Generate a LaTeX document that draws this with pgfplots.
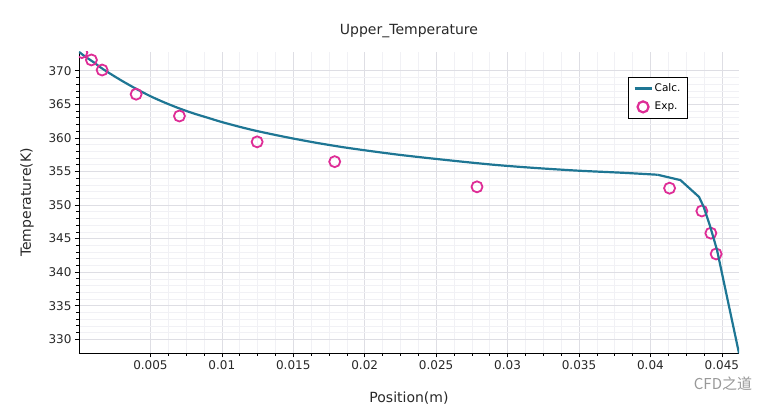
\documentclass[border=0pt]{standalone}
\usepackage{pgfplots}
\pgfplotsset{compat=1.18}
\usepackage{fontspec}
\setmainfont{DejaVu Sans}
\newfontfamily\cjk{Noto Sans CJK SC}
\definecolor{calc}{RGB}{30,118,148}
\definecolor{expc}{RGB}{222,45,150}
\definecolor{majgrid}{RGB}{222,222,228}
\definecolor{mingrid}{RGB}{241,241,245}
\definecolor{ticktext}{RGB}{40,40,40}
\begin{document}
\begin{tikzpicture}
\useasboundingbox (-79pt,-64.7pt) rectangle (694pt,353.3pt);
\begin{axis}[
  name=ax,
  at={(0,0)}, anchor=south west,
  scale only axis, width=660pt, height=301.6pt,
  xmin=0, xmax=0.0462, ymin=327.9, ymax=372.83,
  axis x line*=bottom, axis y line*=left,
  axis line style={black, line width=0.8pt, -},
  xtick={0.005,0.01,0.015,0.02,0.025,0.03,0.035,0.04,0.045},
  ytick={330,335,340,345,350,355,360,365,370},
  minor x tick num=3, minor y tick num=4,
  tick align=outside,
  major tick length=4pt, minor tick length=2.5pt,
  tick style={black, line width=0.6pt},
  grid=both,
  major grid style={majgrid, line width=0.6pt},
  minor grid style={mingrid, line width=0.5pt},
  clip marker paths=true,
  scaled x ticks=false,
  /pgf/number format/assume math mode=true,
  xticklabel style={/pgf/number format/fixed, /pgf/number format/precision=3, font=\fontsize{12}{14}\selectfont, text=ticktext},
  yticklabel style={font=\fontsize{12}{14}\selectfont, text=ticktext},
  title={Upper\_Temperature},
  title style={at={(0.5,1.036)}, anchor=base, font=\fontsize{14}{16}\selectfont, text=ticktext},
  xlabel={Position(m)},
  xlabel style={at={(0.5,-0.1615)}, anchor=base, font=\fontsize{14}{16}\selectfont, text=ticktext},
  ylabel={Temperature(K)},
  ylabel style={at={(-0.0788,0.5)}, anchor=center, font=\fontsize{14}{16}\selectfont, text=ticktext},
  legend style={at={(0.832,0.916)}, anchor=north west, font=\fontsize{10.5}{12}\selectfont, draw=black, line width=0.6pt, inner xsep=5pt, inner ysep=4.5pt, row sep=5pt},
  legend cell align=left,
  legend image post style={line width=2.2pt},
]
\addplot[calc, line width=2.2pt, no marks, smooth, tension=0.5] coordinates {
(0,372.8) (0.0005,372.0) (0.001,371.3) (0.0015,370.5) (0.002,369.8)
(0.003,368.5) (0.004,367.3) (0.005,366.2) (0.006,365.25) (0.007,364.4)
(0.008,363.65) (0.009,363.0) (0.010,362.35) (0.0115,361.5) (0.0127,360.9)
(0.0145,360.1) (0.0165,359.3) (0.0185,358.6) (0.0205,358.0) (0.0225,357.45)
(0.0248,356.9) (0.0275,356.3) (0.0295,355.9) (0.032,355.5) (0.035,355.1)
(0.038,354.8) (0.0405,354.5)
};
\addlegendentry{Calc.}
\addplot[only marks, mark=o, mark size=5.5pt, expc, line width=1.8pt] coordinates {
(0.0002,372.7) (0.00087,371.6) (0.00162,370.1) (0.0040,366.5) (0.00703,363.25)
(0.01247,359.4) (0.0179,356.45) (0.02786,352.7) (0.04134,352.5) (0.0436,349.1)
(0.04423,345.8) (0.0446,342.7)
};
\addlegendentry{Exp.}
\addplot[calc, line width=2.2pt, no marks, forget plot] coordinates {
(0.0405,354.5) (0.0421,353.7) (0.0434,351.2) (0.04371,349.8)
(0.04418,346.8) (0.04466,343.3) (0.04496,340.3) (0.0462,327.9)
};
\end{axis}
\node[text=black!40, font=\fontsize{15}{17}\selectfont\cjk, anchor=center] at ([shift={(644pt,-30pt)}]ax.south west) {CFD之道};
\end{tikzpicture}
\end{document}
